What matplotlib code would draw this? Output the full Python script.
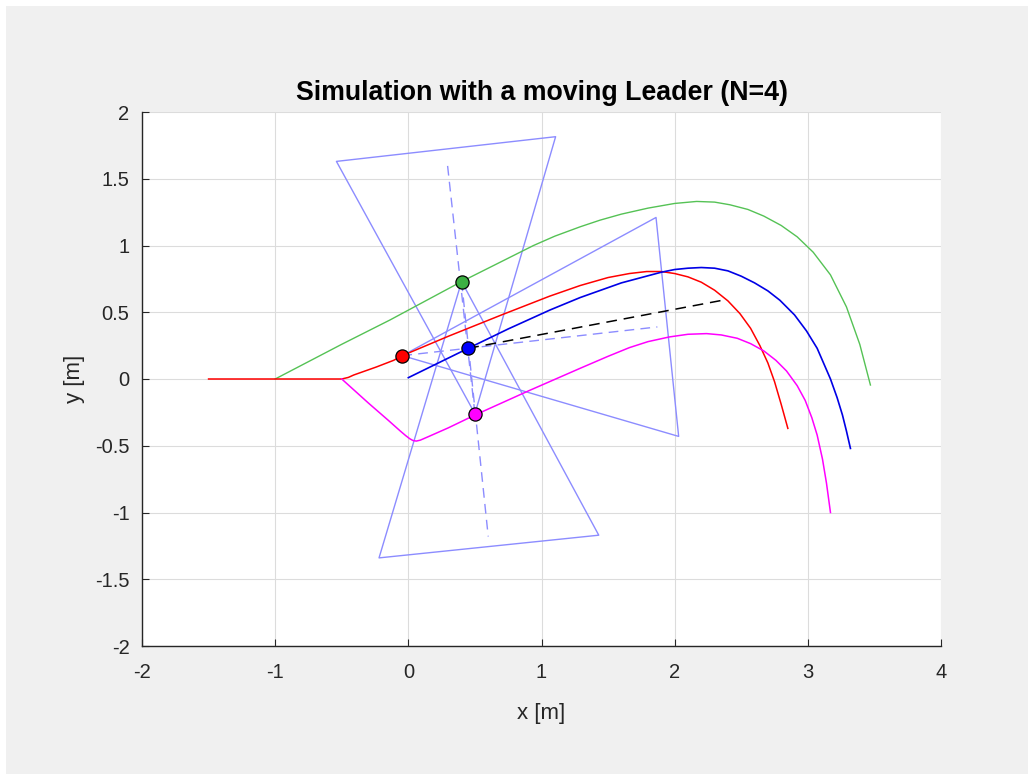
import matplotlib
matplotlib.use("Agg")
import matplotlib.pyplot as plt
from matplotlib.patches import Rectangle

# ---------------- data ----------------
title = "Simulation with a moving Leader (N=4)"
xlabel = "x [m]"
ylabel = "y [m]"
xticks = [-2, -1, 0, 1, 2, 3, 4]
yticks = [-2, -1.5, -1, -0.5, 0, 0.5, 1, 1.5, 2]
ytick_labels = ["-2", "-1.5", "-1", "-0.5", "0", "0.5", "1", "1.5", "2"]

# follower 1 (red)
red_x = [-1.5, -0.5, -0.45, -0.41, -0.24, -0.11, -0.045, 0.3, 0.7, 1.06, 1.29, 1.5, 1.66,
         1.79, 1.9, 2.0, 2.1, 2.2, 2.3, 2.4, 2.49, 2.57, 2.64, 2.70, 2.75, 2.80, 2.85]
red_y = [0.0, 0.0, 0.012, 0.03, 0.09, 0.14, 0.175, 0.32, 0.48, 0.62, 0.70, 0.76, 0.79,
         0.805, 0.805, 0.79, 0.765, 0.725, 0.665, 0.585, 0.49, 0.38, 0.25, 0.12, -0.02,
         -0.19, -0.37]

# leader (blue)
blue_x = [0.0, 0.45, 0.75, 1.064, 1.29, 1.6, 1.9, 2.0, 2.1, 2.2, 2.3, 2.4, 2.5, 2.6,
          2.7, 2.79, 2.90, 2.99, 3.07, 3.17, 3.22, 3.26, 3.29, 3.32]
blue_y = [0.01, 0.23, 0.375, 0.517, 0.61, 0.72, 0.80, 0.82, 0.83, 0.835, 0.83, 0.81,
          0.77, 0.72, 0.66, 0.59, 0.48, 0.36, 0.23, 0.0, -0.14, -0.27, -0.39, -0.52]

# follower 2 (green)
green_x = [-1.0, -0.5, -0.138, 0.40, 0.94, 1.1, 1.29, 1.44, 1.6, 1.8, 2.0, 2.165, 2.3,
           2.415, 2.55, 2.67, 2.8, 2.92, 3.04, 3.17, 3.29, 3.39, 3.47]
green_y = [0.0, 0.26, 0.442, 0.73, 1.0, 1.07, 1.14, 1.19, 1.235, 1.28, 1.315, 1.33,
           1.325, 1.305, 1.27, 1.22, 1.15, 1.065, 0.95, 0.78, 0.54, 0.26, -0.045]

# follower 3 (magenta)
mag_x = [-0.5, -0.45, -0.3, -0.15, -0.06, -0.02, 0.01, 0.035, 0.06, 0.09, 0.15, 0.3,
         0.5, 0.9, 1.29, 1.5, 1.66, 1.8, 1.96, 2.1, 2.24, 2.35, 2.47, 2.57, 2.67, 2.76,
         2.84, 2.92, 2.98, 3.03, 3.07, 3.11, 3.14, 3.17]
mag_y = [0.0, -0.045, -0.18, -0.31, -0.39, -0.424, -0.447, -0.461, -0.465, -0.458,
         -0.432, -0.366, -0.27, -0.09, 0.08, 0.17, 0.235, 0.28, 0.315, 0.335, 0.34,
         0.33, 0.305, 0.265, 0.21, 0.14, 0.06, -0.05, -0.16, -0.29, -0.42, -0.6, -0.78,
         -1.0]

# current positions (markers)
pos_names = ["red", "green", "blue", "magenta"]
pos_x = [-0.045, 0.40, 0.45, 0.50]
pos_y = [0.175, 0.73, 0.23, -0.26]
pos_colors = ["#FF0000", "#3CB043", "#0000FF", "#FF00FF"]

# sensing cones (triangles: apex + two far corners)
cone_red_x = [-0.045, 1.86, 2.03, -0.045]
cone_red_y = [0.175, 1.21, -0.43, 0.175]
cone_mag_x = [0.50, -0.54, 1.106, 0.50]
cone_mag_y = [-0.26, 1.63, 1.815, -0.26]
cone_green_x = [0.40, -0.22, 1.43, 0.40]
cone_green_y = [0.73, -1.34, -1.17, 0.73]

# cone axes (dashed)
axis_red_x = [-0.045, 1.87]
axis_red_y = [0.175, 0.39]
axis_mag_x = [0.50, 0.29]
axis_mag_y = [-0.26, 1.64]
axis_green_x = [0.40, 0.60]
axis_green_y = [0.73, -1.18]

# leader heading (black dashed)
lead_dir_x = [0.45, 2.36]
lead_dir_y = [0.23, 0.59]

# ---------------- styling ----------------
FONT = ["Liberation Sans", "DejaVu Sans"]
plt.rcParams["font.family"] = FONT
AXC = "#262626"
CONE = "#8C8CFF"

fig = plt.figure(figsize=(10.28, 7.74), dpi=100)
fig.patch.set_facecolor("white")
fig.patches.append(Rectangle((6 / 1028, 0), 1, 1 - 6 / 774, transform=fig.transFigure,
                             facecolor="#F0F0F0", edgecolor="none", zorder=-10))

ax = fig.add_axes([142 / 1028, (774 - 646) / 774, (941 - 142) / 1028, (646 - 112) / 774])
ax.set_facecolor("white")

for cx, cy in [(cone_red_x, cone_red_y), (cone_mag_x, cone_mag_y), (cone_green_x, cone_green_y)]:
    ax.plot(cx, cy, color=CONE, lw=1.0, zorder=2)
for lx, ly in [(axis_red_x, axis_red_y), (axis_mag_x, axis_mag_y), (axis_green_x, axis_green_y)]:
    ax.plot(lx, ly, color=CONE, lw=1.0, dashes=(7, 4.5), zorder=2)

ax.plot(lead_dir_x, lead_dir_y, color="black", lw=1.1, dashes=(7, 4.5), zorder=3)

ax.plot(green_x, green_y, color="#55C255", lw=1.0, zorder=3)
ax.plot(red_x, red_y, color="#FF0000", lw=1.1, zorder=3)
ax.plot(mag_x, mag_y, color="#FF00FF", lw=1.1, zorder=3)
ax.plot(blue_x, blue_y, color="#0000E6", lw=1.2, zorder=3)

for x, y, c in zip(pos_x, pos_y, pos_colors):
    ax.plot([x], [y], marker="o", ms=9.5, mfc=c, mec="black", mew=0.9, ls="none", zorder=5)

ax.set_xlim(-2, 4)
ax.set_ylim(-2, 2)
ax.set_xticks(xticks)
ax.set_xticklabels([str(t) for t in xticks])
ax.set_yticks(yticks)
ax.set_yticklabels(ytick_labels)
ax.grid(True, color="#DCDCDC", lw=0.8)
ax.set_axisbelow(True)
for s in ["top", "right"]:
    ax.spines[s].set_visible(False)
for s in ["left", "bottom"]:
    ax.spines[s].set_color(AXC)
    ax.spines[s].set_linewidth(1.0)
ax.tick_params(direction="in", length=5, width=0.8, colors=AXC, labelsize=14.5)
ax.tick_params(axis="x", pad=12)
ax.tick_params(axis="y", pad=9)

ax.set_xlabel(xlabel, fontsize=16, color=AXC, labelpad=15)
ax.set_ylabel(ylabel, fontsize=16, color=AXC, labelpad=7)
ax.set_title(title, fontsize=19.3, fontweight="bold", color="black", pad=9)

fig.savefig("out.png", dpi=100, facecolor=fig.get_facecolor())
